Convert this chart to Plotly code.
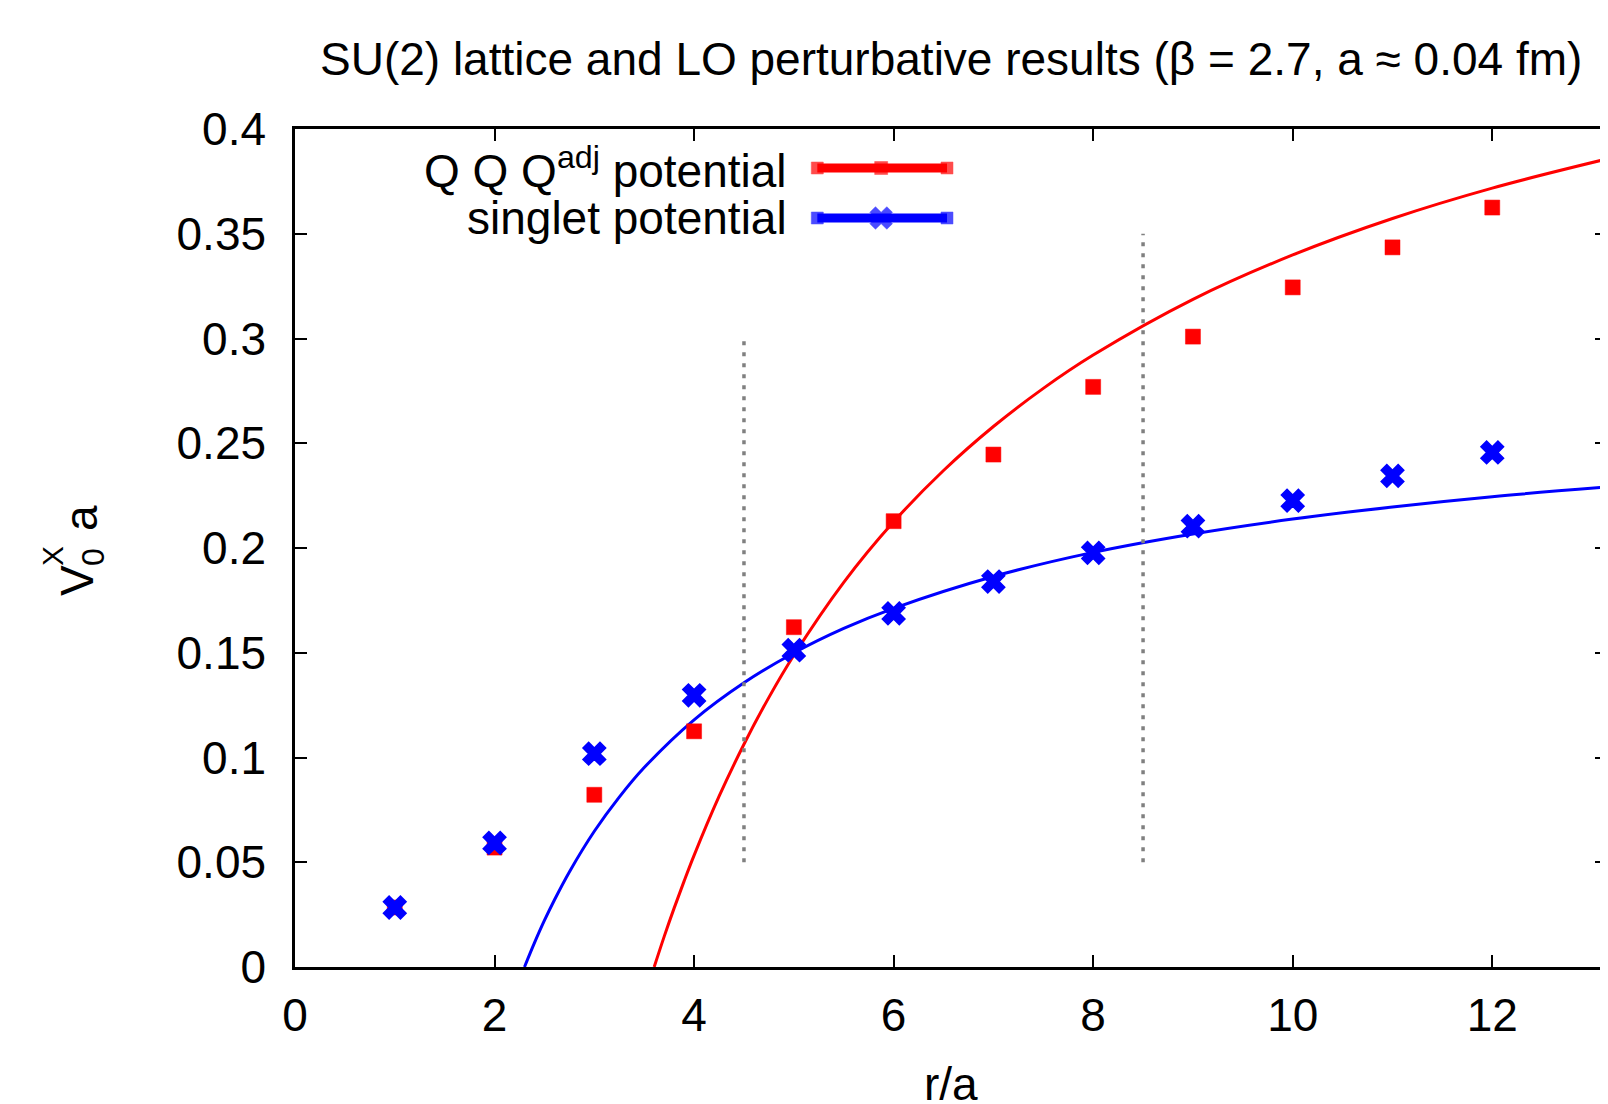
import plotly.graph_objects as go

# ---------------- data ----------------
r_points = [1, 2, 3, 4, 5, 6, 7, 8, 9, 10, 11, 12]
qqq_adj = [0.0284, 0.0570, 0.0822, 0.1125, 0.1622, 0.2128, 0.2446, 0.2769, 0.3009, 0.3244, 0.3435, 0.3625]
singlet = [0.0284, 0.0592, 0.1018, 0.1297, 0.1512, 0.1688, 0.1840, 0.1977, 0.2104, 0.2226, 0.2344, 0.2456]

# LO perturbative curves
r_pert_red = [3.6, 3.7, 3.8, 3.9, 4.0, 4.25, 4.5, 4.75, 5.0, 5.5, 6.0, 6.5, 7.0, 7.5, 8.0,
              9.0, 10.0, 11.0, 12.0, 13.15]
v_pert_red = [0.0, 0.0145, 0.0281, 0.041, 0.0533, 0.0814, 0.1063, 0.1287, 0.1488, 0.1836,
              0.2125, 0.237, 0.258, 0.2762, 0.2921, 0.3187, 0.3399, 0.3573, 0.3718, 0.3857]
r_pert_blue = [2.3, 2.4, 2.5, 2.6, 2.75, 3.0, 3.25, 3.5, 4.0, 4.5, 5.0, 5.5, 6.0, 7.0, 8.0,
               9.0, 10.0, 11.0, 12.0, 13.15]
v_pert_blue = [0.0, 0.0115, 0.0222, 0.032, 0.0454, 0.0648, 0.0811, 0.0952, 0.118, 0.1357,
               0.1499, 0.1616, 0.1712, 0.1864, 0.1979, 0.2067, 0.2138, 0.2196, 0.2245, 0.2291]

# vertical dotted markers
marker_r = [4.5, 8.5]
marker_lo = [0.05, 0.05]
marker_hi = [0.30, 0.35]

x_ticks = [0, 2, 4, 6, 8, 10, 12]
y_ticks = [0, 0.05, 0.1, 0.15, 0.2, 0.25, 0.3, 0.35, 0.4]
y_ticktext = ["0", "0.05", "0.1", "0.15", "0.2", "0.25", "0.3", "0.35", "0.4"]

title_text = "SU(2) lattice and LO perturbative results (β = 2.7, a ≈ 0.04 fm)"
legend_labels = ["Q Q Q<sup>adj</sup> potential", "singlet potential"]

# ---------------- styling / layout geometry ----------------
W, H = 1608, 1104
OFF = 8  # page body margin of the html page
# plot area in screen pixels
SX0, SX1, SY0, SY1 = 294.5, 1609.5, 129, 967
L = SX0 - OFF
R = W - (SX1 - OFF)
T = SY0 - OFF
B = H - (SY1 - OFF)
PW, PH = SX1 - SX0, SY1 - SY0
FONT = "Liberation Sans, Arial, Helvetica, sans-serif"
FS = 46
RED, BLUE, GREY = "#ff0000", "#0000ff", "#808080"


def px(xpix):  # screen pixel -> paper x
    return (xpix - SX0) / PW


def py(ypix):  # screen pixel -> paper y
    return (SY1 - ypix) / PH


fig = go.Figure()

# perturbative curves
fig.add_trace(go.Scatter(x=r_pert_red, y=v_pert_red, mode="lines",
                         line=dict(color=RED, width=3, shape="spline", smoothing=1.0),
                         showlegend=False, hoverinfo="skip"))
fig.add_trace(go.Scatter(x=r_pert_blue, y=v_pert_blue, mode="lines",
                         line=dict(color=BLUE, width=3, shape="spline", smoothing=1.0),
                         showlegend=False, hoverinfo="skip"))

# dotted vertical lines
for xr, lo, hi in zip(marker_r, marker_lo, marker_hi):
    fig.add_trace(go.Scatter(x=[xr, xr], y=[lo, hi], mode="lines",
                             line=dict(color=GREY, width=3.5, dash="4px,7px"),
                             showlegend=False, hoverinfo="skip"))

# lattice data
fig.add_trace(go.Scatter(x=r_points, y=qqq_adj, mode="markers",
                         marker=dict(symbol="square", size=15, color=RED,
                                     line=dict(width=0.5, color=RED)),
                         showlegend=False))
fig.add_trace(go.Scatter(x=r_points, y=singlet, mode="markers",
                         marker=dict(symbol="x", size=20, color=BLUE,
                                     line=dict(color=BLUE, width=1.5)),
                         showlegend=False))

# manual legend (samples on hidden overlay axes spanning the plot area)
leg_x0, leg_xm, leg_x1 = px(818), px(882), px(948)
leg_y = [py(168), py(218)]
leg_colors = [RED, BLUE]
leg_symbols = [["square", "square", "square"], ["square", "x", "square"]]
leg_sizes = [[12, 13, 12], [12, 20, 12]]
for i in range(2):
    fig.add_trace(go.Scatter(x=[leg_x0, leg_xm, leg_x1], y=[leg_y[i]] * 3,
                             xaxis="x2", yaxis="y2", mode="lines+markers",
                             line=dict(color=leg_colors[i], width=9),
                             marker=dict(symbol=leg_symbols[i], size=leg_sizes[i],
                                         color=leg_colors[i],
                                         line=dict(width=0.5, color=leg_colors[i])),
                             showlegend=False, hoverinfo="skip"))
    fig.add_annotation(x=px(790), y=leg_y[i], xref="paper", yref="paper",
                       text=legend_labels[i], showarrow=False,
                       xanchor="right", yanchor="middle",
                       font=dict(family=FONT, size=FS, color="black"))

axis_common = dict(showline=True, linewidth=2.5, linecolor="black", mirror="ticks",
                   ticks="inside", ticklen=12, tickwidth=2, tickcolor="black",
                   showgrid=False, zeroline=False,
                   tickfont=dict(family=FONT, size=FS, color="black"))

fig.update_layout(
    width=W, height=H, autosize=False,
    margin=dict(l=L, r=R, t=T, b=B, pad=0),
    paper_bgcolor="white", plot_bgcolor="white",
    showlegend=False,
    xaxis=dict(range=[0, 13.15], tickvals=x_ticks, ticklabelstandoff=6, **axis_common),
    yaxis=dict(range=[0, 0.4], tickvals=y_ticks, ticktext=y_ticktext,
               ticklabelstandoff=17, **axis_common),
    xaxis2=dict(overlaying="x", range=[0, 1], visible=False, fixedrange=True),
    yaxis2=dict(overlaying="y", range=[0, 1], visible=False, fixedrange=True),
)

# title
fig.add_annotation(x=px(952), y=py(59), xref="paper", yref="paper", text=title_text,
                   showarrow=False, xanchor="center", yanchor="middle",
                   font=dict(family=FONT, size=FS, color="black"))
# x axis title
fig.add_annotation(x=px(952), y=py(1084), xref="paper", yref="paper", text="r/a",
                   showarrow=False, xanchor="center", yanchor="middle",
                   font=dict(family=FONT, size=FS, color="black"))
# y axis title: V with stacked X (super) and 0 (sub), then a
ylab = [("V", 76, 580, FS), ("X", 51, 556, 30), ("0", 92, 557, 32), ("a", 80, 518, FS)]
for txt, xx, yy, fs in ylab:
    fig.add_annotation(x=px(xx), y=py(yy), xref="paper", yref="paper", text=txt,
                       showarrow=False, xanchor="center", yanchor="middle", textangle=-90,
                       font=dict(family=FONT, size=fs, color="black"))

fig.write_html("out.html")
